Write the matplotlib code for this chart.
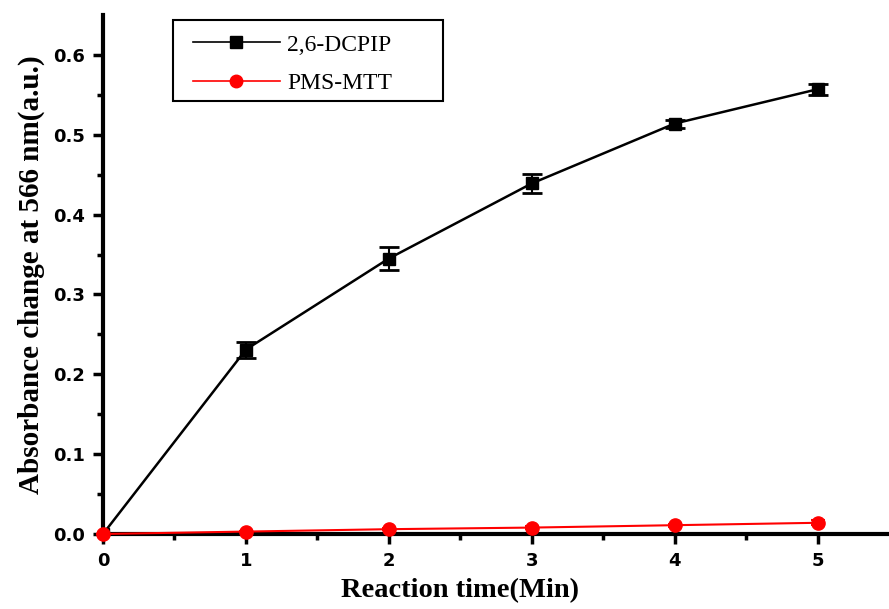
import numpy as np
import matplotlib
matplotlib.use('Agg')
import matplotlib.pyplot as plt
from matplotlib.lines import Line2D
from matplotlib.patches import Rectangle

# Reaction time (min) and absorbance change at 566 nm
time_min = [0, 1, 2, 3, 4, 5]
dcpip = [0.0, 0.231, 0.345, 0.439, 0.514, 0.557]
dcpip_err = [0.0, 0.010, 0.015, 0.012, 0.005, 0.007]
pms_mtt = [0.0, 0.003, 0.006, 0.008, 0.011, 0.014]
pms_mtt_err = [0.0, 0.001, 0.001, 0.002, 0.002, 0.003]

x_ticks = [0, 1, 2, 3, 4, 5]
y_ticks = [0.0, 0.1, 0.2, 0.3, 0.4, 0.5, 0.6]

fig = plt.figure(figsize=(8.89, 6.09), dpi=100)
ax = fig.add_axes([0.1159, 0.1232, 0.8841, 0.8522])

ax.errorbar(time_min, dcpip, yerr=dcpip_err, color='black', lw=1.8,
            marker='s', markersize=9, capsize=7, capthick=2, elinewidth=1.5,
            zorder=3)
ax.errorbar(time_min, pms_mtt, yerr=pms_mtt_err, color='red', lw=1.5,
            marker='o', markersize=9.5, capsize=5, capthick=1.5, elinewidth=1.2,
            zorder=4, clip_on=False)

ax.set_xlim(0, 5.5)
ax.set_ylim(0, 0.65)
ax.set_xticks(x_ticks)
ax.set_yticks(y_ticks)
ax.set_xticks(np.arange(0.5, 5.5, 1), minor=True)
ax.set_yticks(np.arange(0.05, 0.65, 0.1), minor=True)
ax.set_yticklabels(['%.1f' % v for v in y_ticks])

for side in ['top', 'right']:
    ax.spines[side].set_visible(False)
for side in ['left', 'bottom']:
    ax.spines[side].set_linewidth(3)

ax.tick_params(which='major', direction='out', length=7, width=2.5,
               labelsize=13, pad=6)
ax.tick_params(which='minor', direction='out', length=4, width=2.5)
for lab in ax.get_xticklabels() + ax.get_yticklabels():
    lab.set_fontfamily('DejaVu Sans')
    lab.set_fontweight('bold')

ax.set_xlabel('Reaction time(Min)', fontfamily='Liberation Serif',
              fontweight='bold', fontsize=20.5)
# centre the x label under the 0-5 range
ax.xaxis.set_label_coords(2.5 / 5.5, -0.085)
ax.set_ylabel('Absorbance change at 566 nm(a.u.)', fontfamily='Liberation Serif',
              fontweight='bold', fontsize=21, labelpad=6)

# legend entries without frame, box drawn separately (wide right margin)
handles = [
    Line2D([], [], color='black', lw=1.2, marker='s', markersize=8),
    Line2D([], [], color='red', lw=1.2, marker='o', markersize=9),
]
leg = ax.legend(handles, ['2,6-DCPIP', 'PMS-MTT'], loc='center left',
                bbox_to_anchor=(0.0992, 0.9055), handlelength=3.7,
                prop={'family': 'Liberation Serif', 'size': 17},
                frameon=False, borderpad=0, labelspacing=0.71,
                handletextpad=0.3)
ax.add_patch(Rectangle((0.0891, 0.8343), 0.3435, 0.1561, transform=ax.transAxes,
                       fill=False, edgecolor='black', lw=1.5, zorder=5,
                       clip_on=False))

fig.savefig('out.png', dpi=100)
